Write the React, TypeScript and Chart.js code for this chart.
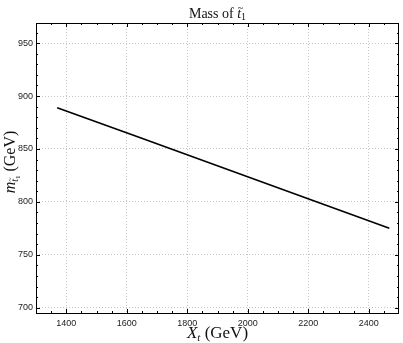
import React, { useEffect, useRef } from "react";
import { Chart, registerables } from "chart.js";

Chart.register(...registerables);

const xValues = [1370, 1645, 1920, 2195, 2468];
const yValues = [889, 860.5, 832, 803.5, 775];
const xTicks = [1400, 1600, 1800, 2000, 2200, 2400];
const yTicks = [700, 750, 800, 850, 900, 950];

const SERIF = '"Liberation Serif", "DejaVu Serif", serif';

type Run = { text: string; font: string; dy: number; tilde?: boolean };

function drawRuns(ctx: CanvasRenderingContext2D, runs: Run[], cx: number, cy: number) {
  let total = 0;
  const widths = runs.map((r) => {
    ctx.font = r.font;
    const w = ctx.measureText(r.text).width;
    total += w;
    return w;
  });
  let x = cx - total / 2;
  ctx.textBaseline = "alphabetic";
  ctx.textAlign = "left";
  runs.forEach((r, i) => {
    ctx.font = r.font;
    ctx.fillText(r.text, x, cy + r.dy);
    if (r.tilde) {
      const size = parseFloat(r.font.match(/(\d+(\.\d+)?)px/)![1]);
      ctx.font = `${size * 0.75}px ${SERIF}`;
      const tw = ctx.measureText("~").width;
      ctx.fillText("~", x + widths[i] / 2 - tw / 2 + size * 0.1, cy + r.dy - size * 0.5);
    }
    x += widths[i];
  });
}

const framePlugin = {
  id: "frame",
  afterDraw(chart: any) {
    const { ctx, chartArea: a, scales } = chart;
    const xs = scales.x;
    const ys = scales.y;
    ctx.save();
    ctx.strokeStyle = "#000";
    ctx.lineWidth = 1;
    ctx.beginPath();
    for (let v = 1300; v <= 2500; v += 50) {
      const px = Math.round(xs.getPixelForValue(v)) + 0.5;
      if (px < a.left || px > a.right) continue;
      const len = v % 200 === 0 ? 4 : 2;
      ctx.moveTo(px, a.bottom);
      ctx.lineTo(px, a.bottom - len);
      ctx.moveTo(px, a.top);
      ctx.lineTo(px, a.top + len);
    }
    for (let v = 700; v <= 960; v += 10) {
      const py = Math.round(ys.getPixelForValue(v)) + 0.5;
      if (py < a.top || py > a.bottom) continue;
      const len = v % 50 === 0 ? 4 : 2;
      ctx.moveTo(a.left, py);
      ctx.lineTo(a.left + len, py);
      ctx.moveTo(a.right, py);
      ctx.lineTo(a.right - len, py);
    }
    ctx.stroke();
    ctx.strokeRect(Math.round(a.left) + 0.5, Math.round(a.top) + 0.5, Math.round(a.right - a.left) - 1, Math.round(a.bottom - a.top));
    ctx.fillStyle = "#111";
    drawRuns(
      ctx,
      [
        { text: "Mass of ", font: `14px ${SERIF}`, dy: 0 },
        { text: "t", font: `italic 14px ${SERIF}`, dy: 0, tilde: true },
        { text: "1", font: `10px ${SERIF}`, dy: 2 },
      ],
      (a.left + a.right) / 2,
      18
    );
    drawRuns(
      ctx,
      [
        { text: "X", font: `italic 17px ${SERIF}`, dy: 0 },
        { text: "t", font: `italic 11px ${SERIF}`, dy: 3 },
        { text: " (GeV)", font: `17px ${SERIF}`, dy: 0 },
      ],
      (a.left + a.right) / 2,
      338
    );
    ctx.save();
    ctx.translate(15, 162);
    ctx.rotate(-Math.PI / 2);
    drawRuns(
      ctx,
      [
        { text: "m", font: `italic 16px ${SERIF}`, dy: 0 },
        { text: "t", font: `italic 10px ${SERIF}`, dy: 3, tilde: true },
        { text: "1", font: `7px ${SERIF}`, dy: 5 },
        { text: " (GeV)", font: `16px ${SERIF}`, dy: 0 },
      ],
      0,
      0
    );
    ctx.restore();
    ctx.restore();
  },
};

export default function App() {
  const ref = useRef<HTMLCanvasElement>(null);
  useEffect(() => {
    document.body.style.margin = "0";
    const chart = new Chart(ref.current!, {
      type: "line",
      data: {
        datasets: [
          {
            data: xValues.map((x, i) => ({ x, y: yValues[i] })),
            borderColor: "#000",
            borderWidth: 1.6,
            pointRadius: 0,
            fill: false,
            tension: 0,
          },
        ],
      },
      options: {
        animation: false,
        responsive: false,
        maintainAspectRatio: false,
        layout: { padding: { top: 23, right: 4, left: 0, bottom: 0 } },
        plugins: { legend: { display: false }, tooltip: { enabled: false }, title: { display: false } },
        scales: {
          x: {
            type: "linear",
            min: 1300,
            max: 2500,
            afterBuildTicks: (s: any) => {
              s.ticks = xTicks.map((v) => ({ value: v }));
            },
            afterFit: (s: any) => {
              s.height = 30;
            },
            grid: { color: "#c4c4c4", lineWidth: 1, drawTicks: false },
            border: { display: false, dash: [1, 2] },
            ticks: {
              padding: 5,
              maxRotation: 0,
              color: "#222",
              font: { family: '"Liberation Sans", Arial, sans-serif', size: 9 },
              callback: (v: any) => String(v),
            },
          },
          y: {
            type: "linear",
            min: 695,
            max: 969,
            afterBuildTicks: (s: any) => {
              s.ticks = yTicks.map((v) => ({ value: v }));
            },
            afterFit: (s: any) => {
              s.width = 36;
            },
            grid: { color: "#c4c4c4", lineWidth: 1, drawTicks: false },
            border: { display: false, dash: [1, 2] },
            ticks: {
              padding: 3,
              color: "#222",
              font: { family: '"Liberation Sans", Arial, sans-serif', size: 9 },
              callback: (v: any) => String(v),
            },
          },
        },
      },
      plugins: [framePlugin],
    });
    return () => chart.destroy();
  }, []);
  return <canvas ref={ref} width={403} height={343} style={{ display: "block" }} />;
}
